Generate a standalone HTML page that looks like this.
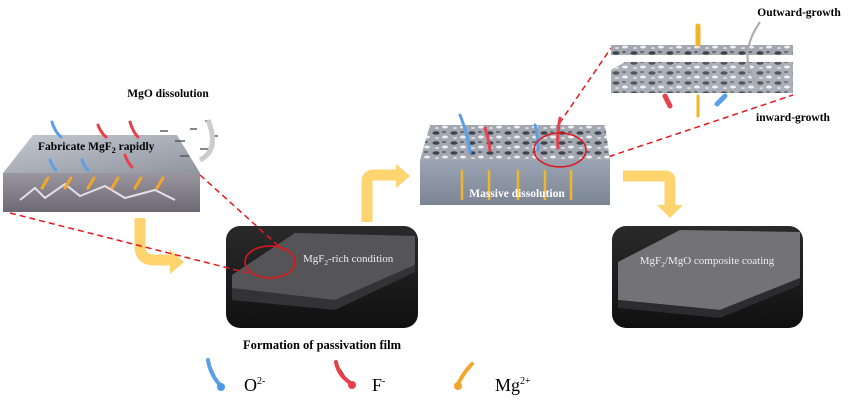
<!DOCTYPE html>
<html><head><meta charset="utf-8"><style>
html,body{margin:0;padding:0;background:#fff;width:864px;height:406px;overflow:hidden}
svg text{font-family:"Liberation Serif",serif}
</style></head><body>
<svg width="864" height="406" viewBox="0 0 864 406" xmlns="http://www.w3.org/2000/svg">
<defs>
<linearGradient id="gfront" x1="0" y1="0" x2="0" y2="1"><stop offset="0" stop-color="#9a96a0"/><stop offset="1" stop-color="#6d6873"/></linearGradient>
<linearGradient id="gtop" x1="0" y1="0" x2="1" y2="1"><stop offset="0" stop-color="#c4c8d0"/><stop offset="1" stop-color="#9095a0"/></linearGradient>
<linearGradient id="gbox" x1="0" y1="0" x2="0" y2="1"><stop offset="0" stop-color="#2a2a2a"/><stop offset="1" stop-color="#101010"/></linearGradient>
<linearGradient id="gmid" x1="0" y1="0" x2="0" y2="1"><stop offset="0" stop-color="#9aa4b2"/><stop offset="1" stop-color="#7c8593"/></linearGradient>
<pattern id="mott" width="18" height="10" patternUnits="userSpaceOnUse"><rect width="18" height="10" fill="#a2a7b0"/><ellipse cx="4" cy="3" rx="3.5" ry="1.8" fill="#3e424c"/><ellipse cx="13" cy="7" rx="3" ry="1.5" fill="#eef0f4"/><ellipse cx="12" cy="2" rx="2" ry="1" fill="#60646e"/><ellipse cx="5" cy="8" rx="2" ry="1" fill="#d8dbe0"/></pattern>
</defs>

<!-- left slab -->
<polygon points="3,173 33,135 177,135 200,173" fill="url(#gtop)"/>
<rect x="3" y="173" width="197" height="39" fill="url(#gfront)"/>
<path d="M20,200 l15,-12 l10,10 l20,-14 l15,12 l25,-10 l20,12 l30,-8 l20,10" stroke="#e4e0e8" stroke-width="2" fill="none"/>
<g fill="#555" opacity="0.7"><rect x="160" y="130" width="8" height="2"/><rect x="175" y="140" width="10" height="2"/><rect x="190" y="128" width="7" height="2"/><rect x="200" y="148" width="9" height="2"/><rect x="210" y="135" width="8" height="2"/><rect x="180" y="155" width="9" height="2"/><rect x="205" y="120" width="6" height="2"/></g>
<path d="M200,160 q20,-10 8,-40" stroke="#ccc" stroke-width="5" fill="none"/>
<text x="168" y="97" font-size="11.5" font-weight="bold" text-anchor="middle">MgO dissolution</text>
<text x="38" y="150" font-size="11.5" font-weight="bold">Fabricate MgF<tspan font-size="8" dy="3">2</tspan><tspan dy="-3"> rapidly</tspan></text>
<g stroke-linecap="round" stroke-width="3">
<path d="M52,122 q3,10 9,15" stroke="#5aa0e8"/><path d="M98,125 q3,8 8,12" stroke="#e8404a"/><path d="M130,122 q3,10 8,15" stroke="#e8404a"/>
<path d="M50,160 q3,8 6,10" stroke="#5aa0e8"/><path d="M82,160 q3,8 6,10" stroke="#5aa0e8"/><path d="M125,155 q3,8 7,12" stroke="#e8404a"/>
<path d="M42,188 l6,-10" stroke="#f2a72a"/><path d="M65,188 l6,-10" stroke="#f2a72a"/><path d="M88,188 l6,-10" stroke="#f2a72a"/><path d="M112,188 l6,-10" stroke="#f2a72a"/><path d="M135,188 l6,-10" stroke="#f2a72a"/><path d="M157,188 l6,-10" stroke="#f2a72a"/>
</g>

<!-- yellow arrows -->
<g fill="none" stroke="#fdd46e" stroke-width="11">
<path d="M140,218 v28 q0,14 14,14 h18"/>
<path d="M367,222 v-40 q0,-7 7,-7 h26"/>
<path d="M623,176 h42 q5,0 5,5 v26"/>
</g>
<polygon points="170,250 184,262 170,274" fill="#fdd46e"/>
<polygon points="396,164 410,176 396,188" fill="#fdd46e"/>
<polygon points="657,205 683,205 670,218" fill="#fdd46e"/>

<!-- box 1 -->
<rect x="226" y="226" width="192" height="102" rx="14" fill="url(#gbox)"/>
<polygon points="232,275 295,233 415,236 415,265 335,300 232,295" fill="#555557"/>
<polygon points="232,288 335,300 415,265 415,272 335,310 232,300" fill="#333335"/>
<text x="303" y="262" font-size="11" fill="#eee">MgF<tspan font-size="7.5" dy="3">2</tspan><tspan dy="-3">-rich condition</tspan></text>
<ellipse cx="270" cy="262" rx="25" ry="16" fill="none" stroke="#e0161c" stroke-width="1.5"/>
<text x="322" y="349" font-size="12.5" font-weight="bold" text-anchor="middle" font-family="Liberation Sans">Formation of passivation film</text>

<!-- dashed -->
<g stroke="#e8161c" stroke-width="1.5" stroke-dasharray="6,4" fill="none">
<path d="M200,175 L283,250"/><path d="M10,213 L248,273"/>
<path d="M548,140 L611,48"/><path d="M590,163 L793,95"/>
</g>

<!-- middle slab -->
<polygon points="420,160 430,125 605,125 610,160" fill="url(#mott)"/>
<rect x="420" y="160" width="190" height="45" fill="url(#gmid)"/>
<g stroke="#f2b52a" stroke-width="2.5"><path d="M462,170 v30"/><path d="M489,170 v30"/><path d="M518,170 v30"/><path d="M545,170 v30"/><path d="M571,170 v30"/></g>
<g stroke-linecap="round" stroke-width="3"><path d="M460,115 q8,20 10,38" stroke="#5aa0e8"/><path d="M485,128 q4,12 5,22" stroke="#e8404a"/><path d="M560,118 q-3,15 -2,30" stroke="#e8404a"/><path d="M535,125 q3,12 3,25" stroke="#5aa0e8"/></g>
<ellipse cx="560" cy="150" rx="26" ry="17" fill="none" stroke="#e0161c" stroke-width="1.5"/>
<text x="517" y="197" font-size="11.5" font-weight="bold" fill="#fff" text-anchor="middle">Massive dissolution</text>

<!-- layers -->
<rect x="611" y="45" width="182" height="10" fill="url(#mott)"/>
<polygon points="611,70 625,62 793,62 793,93 611,93" fill="url(#mott)" opacity="0.9"/>
<g stroke-linecap="round" stroke-width="3"><path d="M698,26 v18" stroke="#f2b52a" stroke-width="5"/><path d="M698,96 v20" stroke="#f2b52a"/><path d="M665,96 l5,10" stroke="#e8404a" stroke-width="5"/><path d="M725,96 l-8,8" stroke="#5aa0e8" stroke-width="5"/></g>
<path d="M760,88 q-25,-30 0,-66" stroke="#aaa" stroke-width="2" fill="none"/>
<text x="799" y="16" font-size="11.5" font-weight="bold" text-anchor="middle">Outward-growth</text>
<text x="793" y="121" font-size="11.5" font-weight="bold" text-anchor="middle">inward-growth</text>

<!-- box 2 -->
<rect x="612" y="226" width="191" height="102" rx="14" fill="url(#gbox)"/>
<polygon points="618,262 680,230 800,232 800,278 720,310 618,300" fill="#737375"/>
<polygon points="618,300 720,310 800,278 800,285 720,318 618,308" fill="#2c2c2e"/>
<text x="707" y="264" font-size="11" fill="#eee" text-anchor="middle">MgF<tspan font-size="7.5" dy="3">2</tspan><tspan dy="-3">/MgO composite coating</tspan></text>

<!-- legend -->
<g stroke-linecap="round" stroke-width="4"><path d="M208,360 q2,14 12,25" stroke="#5aa0e8"/><path d="M336,362 q2,12 13,20" stroke="#e8404a"/><path d="M458,384 q6,-12 14,-20" stroke="#f2a72a"/></g>
<circle cx="221" cy="387" r="4" fill="#4a9ae8"/><circle cx="352" cy="385" r="4" fill="#e8404a"/><circle cx="458" cy="386" r="4" fill="#f2a72a"/>
<text x="244" y="391" font-size="18">O<tspan font-size="10" dy="-7">2-</tspan></text>
<text x="372" y="391" font-size="18">F<tspan font-size="10" dy="-7">-</tspan></text>
<text x="495" y="391" font-size="18">Mg<tspan font-size="10" dy="-7">2+</tspan></text>
</svg>
</body></html>
